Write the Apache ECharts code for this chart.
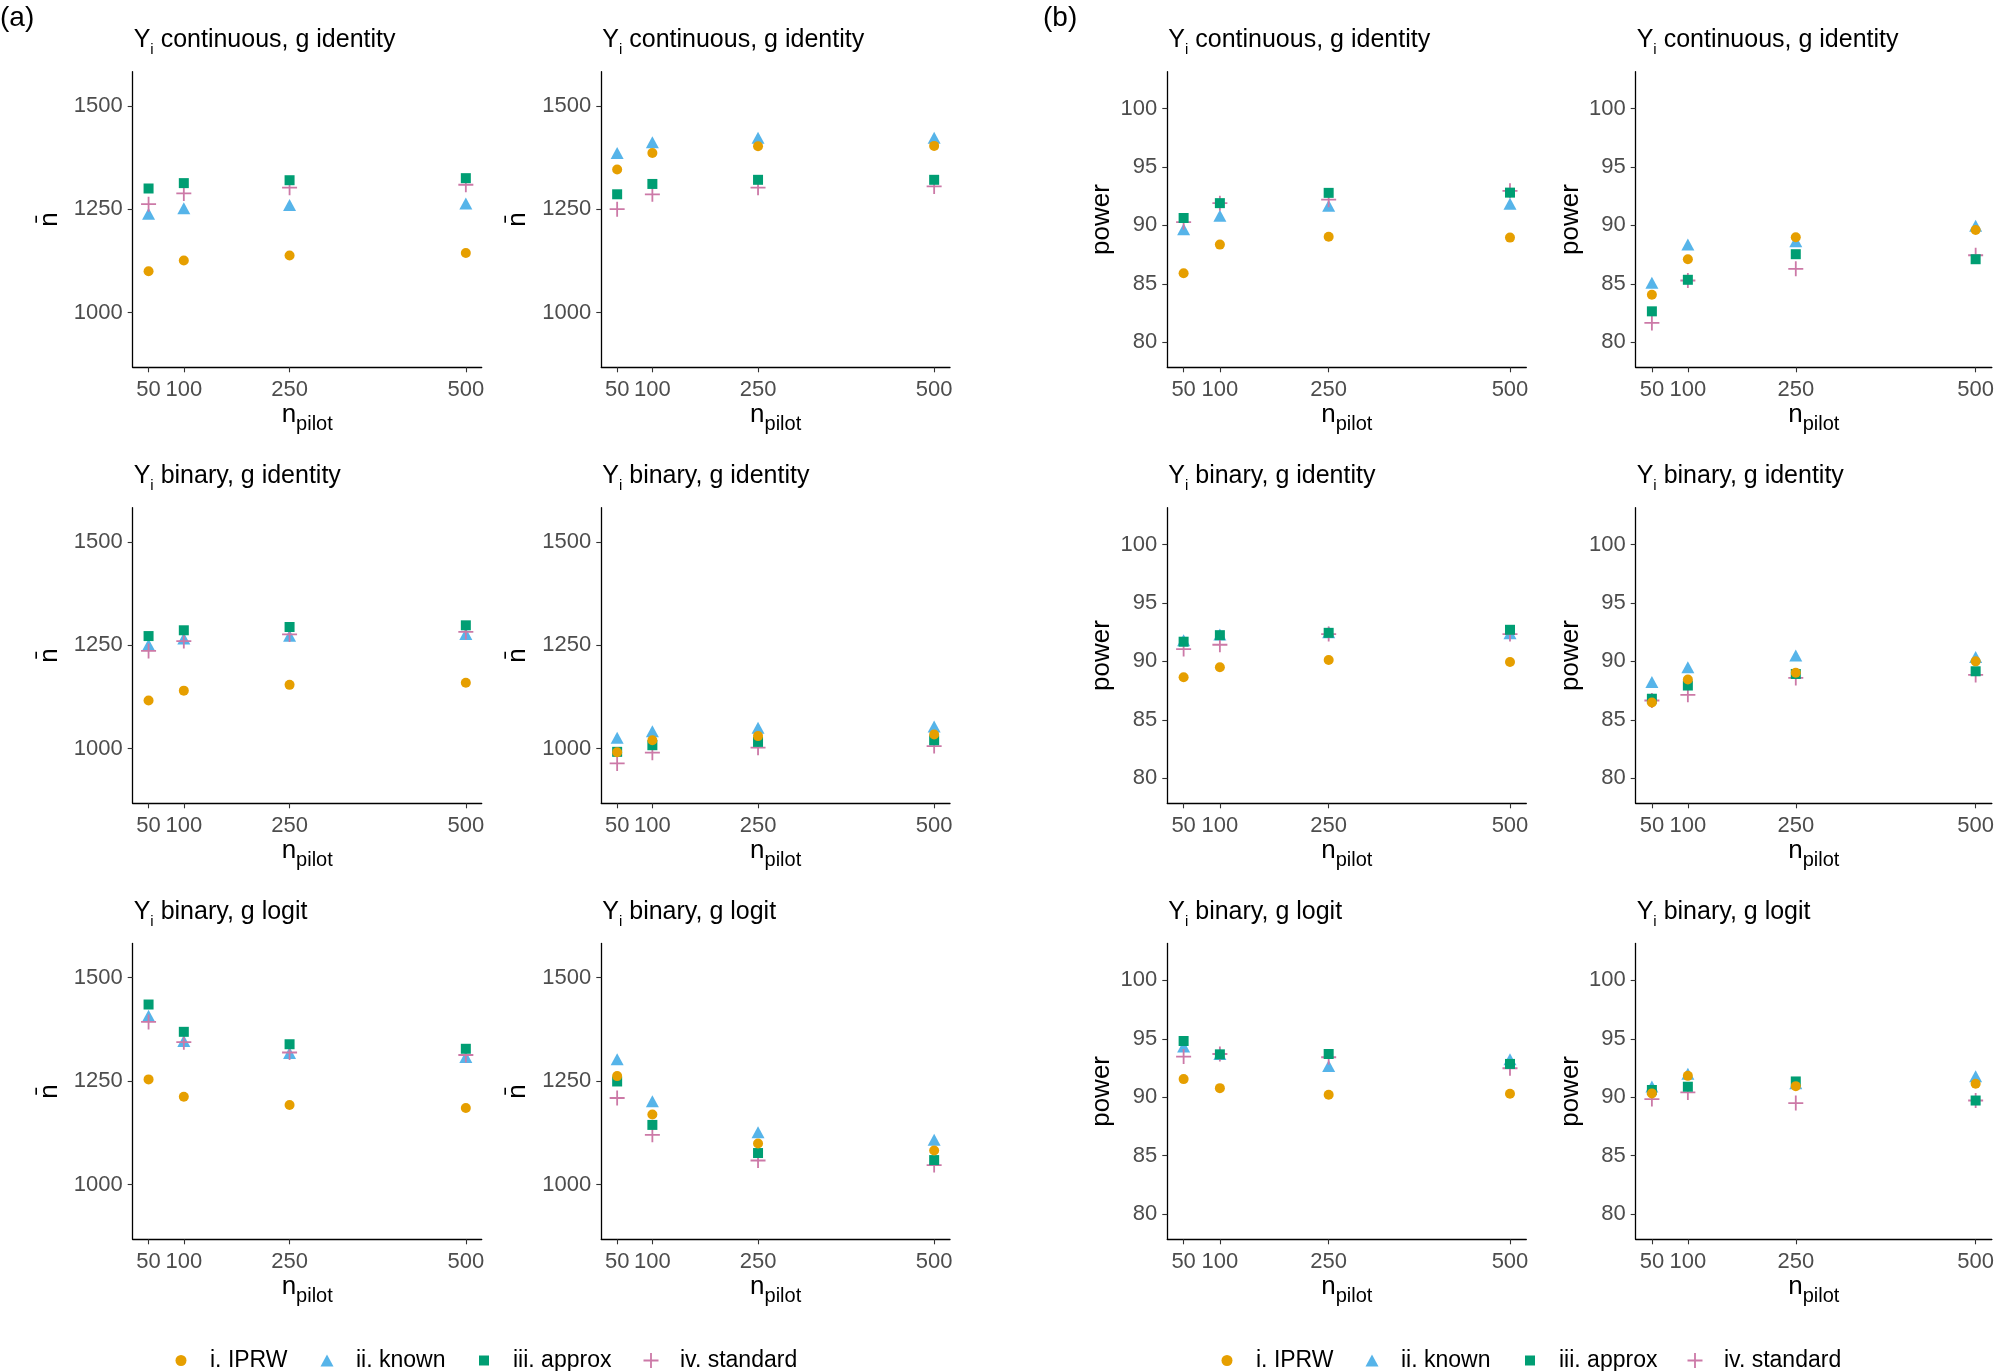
<!DOCTYPE html>
<html><head><meta charset="utf-8">
<script src="https://cdn.jsdelivr.net/npm/echarts@6/dist/echarts.min.js"></script>
<style>html,body{margin:0;padding:0;background:#fff}#c{width:1997px;height:1371px}</style>
</head><body><div id="c"></div><script>
// ---------- data ----------
const nPilot = [50, 100, 250, 500];
const methods = ['i. IPRW', 'ii. known', 'iii. approx', 'iv. standard'];
const nbarTicks = [1000, 1250, 1500];
const powerTicks = [80, 85, 90, 95, 100];
const rowTitles = ['continuous, g identity', 'binary, g identity', 'binary, g logit'];
const scenarioLabelX = 400, nbarLabelY = 1550, powerLabelY = 102;

// (a) mean sample size; rows: [IPRW, known, approx, standard]
const nbarContIdS1 = [[1100,1126,1138,1144],[1239,1252,1260,1264],[1300,1313,1320,1325],[1262,1288,1302,1309]];
const nbarContIdS2 = [[1346,1386,1402,1403],[1386,1412,1423,1423],[1286,1311,1321,1321],[1250,1286,1302,1305]];
const nbarBinIdS1  = [[1116,1140,1154,1159],[1251,1266,1273,1277],[1272,1286,1294,1298],[1236,1260,1276,1282]];
const nbarBinIdS2  = [[991,1020,1030,1034],[1026,1042,1050,1053],[992,1008,1016,1020],[964,990,1002,1006]];
const nbarBinLogS1 = [[1254,1212,1192,1185],[1408,1347,1318,1308],[1435,1369,1339,1328],[1393,1344,1319,1313]];
const nbarBinLogS2 = [[1262,1169,1099,1082],[1303,1201,1126,1108],[1249,1144,1076,1059],[1209,1120,1058,1047]];
// (b) power
const powContIdS1 = [[85.9,88.35,89.03,88.95],[89.66,90.82,91.68,91.85],[90.63,91.9,92.78,92.8],[90.28,91.9,92.2,92.95]];
const powContIdS2 = [[84.06,87.1,88.98,89.6],[85.09,88.35,88.64,89.97],[82.64,85.34,87.53,87.1],[81.65,85.28,86.28,87.44]];
const powBinIdS1  = [[88.64,89.49,90.11,89.94],[91.8,92.3,92.5,92.4],[91.68,92.24,92.44,92.7],[91.05,91.42,92.33,92.33]];
const powBinIdS2  = [[86.48,88.44,89.03,90.0],[88.24,89.49,90.51,90.37],[86.8,87.93,88.92,89.15],[86.65,87.13,88.58,88.84]];
const powBinLogS1 = [[91.55,90.78,90.21,90.3],[94.35,93.7,92.68,93.25],[94.81,93.67,93.7,92.85],[93.48,93.7,93.42,92.48]];
const powBinLogS2 = [[90.33,91.83,90.95,91.16],[90.92,92.0,91.2,91.8],[90.62,90.9,91.35,89.72],[89.84,90.41,89.5,89.72]];

// ---------- styling / layout ----------
const FONT = '"Liberation Sans", Arial, sans-serif';
const colors = ['#E69F00', '#56B4E9', '#009E73', '#CC79A7'];
const plusPath = 'path://M4.4,0H5.6V4.4H10V5.6H5.6V10H4.4V5.6H0V4.4H4.4Z';
const symbols = ['circle', 'triangle', 'rect', plusPath];
const sizes = [10, [13, 12], 10, 15];
const zs = [5, 2, 4, 3];
const cols = [[132.7, 481.7], [601.3, 950], [1167.3, 1526.3], [1635.7, 1995.7]];
const rows = [[71.7, 367.3], [507.7, 803.3], [943.5, 1239.3]];

const panels = [
  {c:0,r:0,kind:'a',s:1,d:nbarContIdS1},{c:1,r:0,kind:'a',s:2,d:nbarContIdS2},
  {c:0,r:1,kind:'a',s:1,d:nbarBinIdS1},{c:1,r:1,kind:'a',s:2,d:nbarBinIdS2},
  {c:0,r:2,kind:'a',s:1,d:nbarBinLogS1},{c:1,r:2,kind:'a',s:2,d:nbarBinLogS2},
  {c:2,r:0,kind:'b',s:1,d:powContIdS1},{c:3,r:0,kind:'b',s:2,d:powContIdS2},
  {c:2,r:1,kind:'b',s:1,d:powBinIdS1},{c:3,r:1,kind:'b',s:2,d:powBinIdS2},
  {c:2,r:2,kind:'b',s:1,d:powBinLogS1},{c:3,r:2,kind:'b',s:2,d:powBinLogS2}
];

const plain = v => String(v);
const grid = [], xAxis = [], yAxis = [], series = [], title = [], legend = [];
title.push({text:'(a)', left:0, top:4, padding:0, textStyle:{fontSize:28, fontWeight:'normal', color:'#000', fontFamily:FONT}});
title.push({text:'(b)', left:1043, top:4, padding:0, textStyle:{fontSize:28, fontWeight:'normal', color:'#000', fontFamily:FONT}});

panels.forEach((p, i) => {
  const [x0, x1] = cols[p.c], [y0, y1] = rows[p.r];
  grid.push({left:x0, top:y0, width:x1 - x0, height:y1 - y0, containLabel:false});
  const isA = p.kind === 'a';
  xAxis.push({
    gridIndex:i, type:'value', min:27.5, max:522.5,
    axisLine:{show:true, onZero:false, lineStyle:{color:'#000', width:1.3}},
    axisTick:{show:true, customValues:nPilot, length:5, lineStyle:{color:'#333', width:1.1}},
    axisLabel:{customValues:nPilot, formatter:plain, fontSize:22, color:'#4D4D4D', margin:12, fontFamily:FONT},
    splitLine:{show:false},
    name:'{m|n}{s|pilot}', nameLocation:'middle', nameGap:30,
    nameTextStyle:{rich:{
      m:{fontSize:26, lineHeight:32, verticalAlign:'top', color:'#000', fontFamily:FONT},
      s:{fontSize:20, lineHeight:20, verticalAlign:'bottom', color:'#000', fontFamily:FONT}}}
  });
  yAxis.push({
    gridIndex:i, type:'value',
    min: isA ? 867.5 : 77.85, max: isA ? 1582.5 : 103.15,
    axisLine:{show:true, onZero:false, lineStyle:{color:'#000', width:1.3}},
    axisTick:{show:true, customValues: isA ? nbarTicks : powerTicks, length:5, lineStyle:{color:'#333', width:1.1}},
    axisLabel:{customValues: isA ? nbarTicks : powerTicks, formatter:plain, fontSize:22, color:'#4D4D4D', margin:10, fontFamily:FONT},
    splitLine:{show:false},
    name: isA ? 'n\u0304' : 'power', nameLocation:'middle', nameRotate:90, nameGap: isA ? 70 : 52,
    nameTextStyle:{fontSize:26, color:'#000', fontFamily:FONT}
  });
  title.push({
    text:'{m|Y}{s|i}{m| ' + rowTitles[p.r] + '}', left:x0 + 1, top:y0 - 44, padding:0,
    textStyle:{fontWeight:'normal', rich:{
      m:{fontSize:25, fontWeight:'normal', lineHeight:30, verticalAlign:'top', color:'#000', fontFamily:FONT},
      s:{fontSize:15, fontWeight:'normal', lineHeight:15, verticalAlign:'bottom', color:'#000', fontFamily:FONT}}}
  });
  methods.forEach((m, k) => {
    series.push({
      type:'scatter', name:m, xAxisIndex:i, yAxisIndex:i,
      symbol:symbols[k], symbolSize:sizes[k], z:zs[k],
      itemStyle:{color:colors[k], opacity:1},
      data: nPilot.map((x, j) => [x, p.d[k][j]]),
      silent:true
    });
  });
  series.push({
    type:'scatter', xAxisIndex:i, yAxisIndex:i, symbolSize:0, silent:true, z:10,
    data:[[scenarioLabelX, isA ? nbarLabelY : powerLabelY]],
    itemStyle:{opacity:0},
    label:{show:true, position:'inside', formatter:'Scenario ' + p.s, fontSize:22, color:'#000', fontFamily:FONT}
  });
});

// legends: one per item for precise placement
const legendCenters = [[181, 327, 484, 651], [1227, 1372, 1530, 1695]];
const legendIcon = [['circle', 11, 11], ['triangle', 13, 12], ['rect', 10, 10], [plusPath, 15, 15]];
legendCenters.forEach(arr => arr.forEach((cx, k) => {
  legend.push({
    data:[{name:methods[k], icon:legendIcon[k][0]}],
    left: cx - legendIcon[k][1] / 2, top:1349, padding:0,
    itemWidth:legendIcon[k][1], itemHeight:legendIcon[k][2], itemGap:0,
    selectedMode:false,
    textStyle:{fontSize:23, color:'#000', fontFamily:FONT, padding:[0,0,0,24 - legendIcon[k][1] / 2]}
  });
}));

const chart = echarts.init(document.getElementById('c'), null, {renderer:'canvas'});
chart.setOption({
  animation:false, backgroundColor:'#fff',
  textStyle:{fontFamily:FONT},
  title, grid, xAxis, yAxis, series, legend
});
</script></body></html>
